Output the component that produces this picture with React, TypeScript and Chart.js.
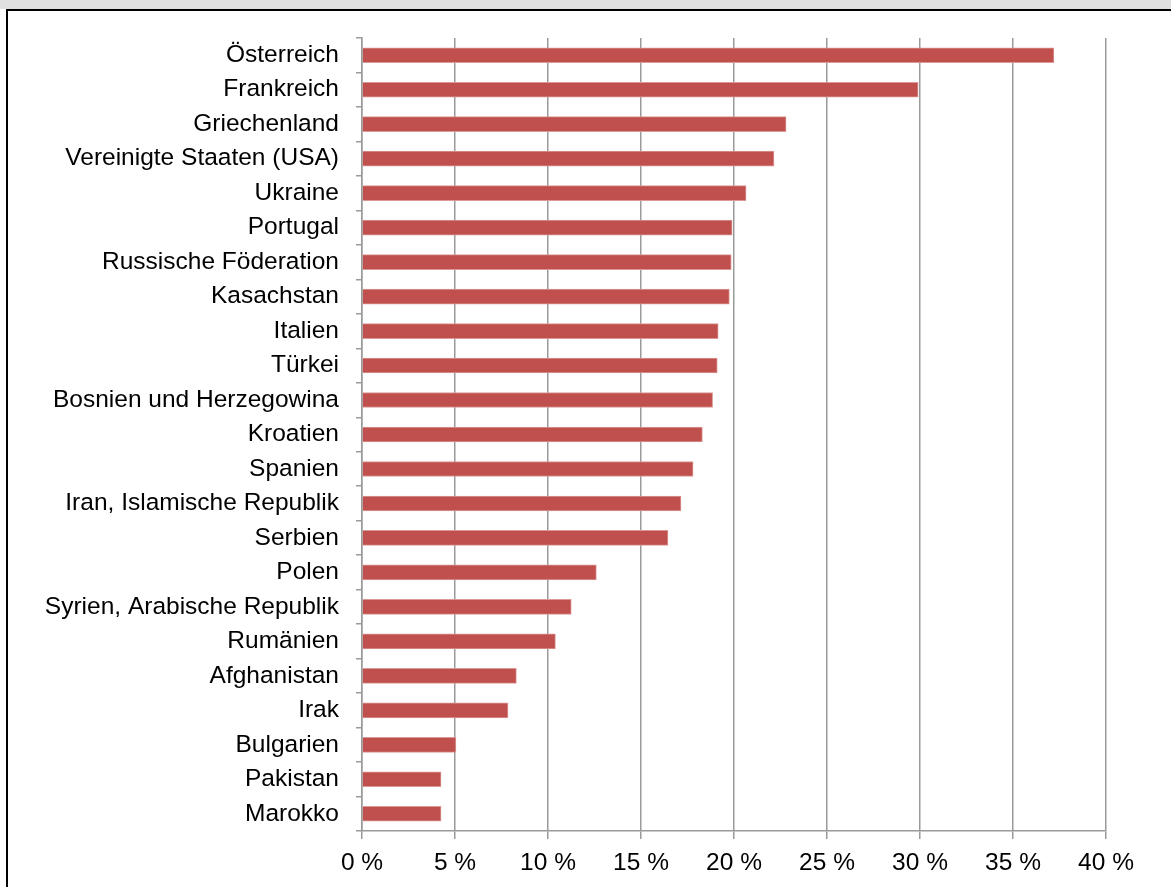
import React, { useEffect, useRef } from 'react';
import { Chart, registerables } from 'chart.js';

Chart.register(...registerables);

const categories = [
  'Österreich',
  'Frankreich',
  'Griechenland',
  'Vereinigte Staaten (USA)',
  'Ukraine',
  'Portugal',
  'Russische Föderation',
  'Kasachstan',
  'Italien',
  'Türkei',
  'Bosnien und Herzegowina',
  'Kroatien',
  'Spanien',
  'Iran, Islamische Republik',
  'Serbien',
  'Polen',
  'Syrien, Arabische Republik',
  'Rumänien',
  'Afghanistan',
  'Irak',
  'Bulgarien',
  'Pakistan',
  'Marokko',
];

const values = [
  37.2, 29.9, 22.8, 22.15, 20.65, 19.9, 19.85, 19.75, 19.15, 19.1, 18.85, 18.3,
  17.8, 17.15, 16.45, 12.6, 11.25, 10.4, 8.3, 7.85, 5.05, 4.25, 4.25,
];

const xMin = 0;
const xMax = 40;
const xStep = 5;

export default function App() {
  const ref = useRef<HTMLCanvasElement>(null);

  useEffect(() => {
    document.body.style.margin = '0';
    const canvas = ref.current;
    if (!canvas) return;
    const font = { family: '"Liberation Sans", Arial, sans-serif', size: 24.5 };
    const chart = new Chart(canvas, {
      type: 'bar',
      data: {
        labels: categories,
        datasets: [
          {
            data: values,
            backgroundColor: '#C0504D',
            borderColor: '#DA9996',
            borderWidth: 1,
            barThickness: 15,
          },
        ],
      },
      options: {
        indexAxis: 'y',
        responsive: false,
        animation: false,
        devicePixelRatio: 1,
        layout: { padding: { left: 0, top: 27, right: 65, bottom: 0 } },
        plugins: { legend: { display: false }, tooltip: { enabled: false } },
        scales: {
          x: {
            min: xMin,
            max: xMax,
            grid: { color: '#9a9a9a', lineWidth: 1.5, tickLength: 8 },
            border: { color: '#9a9a9a', width: 1.5 },
            ticks: {
              stepSize: xStep,
              padding: 10,
              color: '#000',
              font,
              maxRotation: 0,
              callback: (v: any) => `${v} %`,
            },
            afterFit: (scale: any) => {
              scale.height = 56;
              scale.paddingLeft = 0;
              scale.paddingRight = 0;
            },
          },
          y: {
            grid: { drawOnChartArea: false, tickLength: 6, color: '#9a9a9a', lineWidth: 1.5 },
            border: { color: '#9a9a9a', width: 1.5 },
            ticks: { padding: 17, color: '#000', font, autoSkip: false },
            afterFit: (scale: any) => {
              scale.width = 354;
              scale.paddingTop = 0;
              scale.paddingBottom = 0;
            },
          },
        },
      },
    });
    return () => chart.destroy();
  }, []);

  return (
    <div style={{ position: 'relative', width: 1171, height: 887, overflow: 'hidden', background: '#fff' }}>
      <div style={{ position: 'absolute', left: 0, top: 0, width: 1171, height: 9, background: '#e0e0e0' }} />
      <div
        style={{
          position: 'absolute',
          left: 6,
          top: 9,
          width: 1165,
          height: 878,
          borderTop: '2px solid #000',
          borderLeft: '2px solid #000',
          boxSizing: 'border-box',
        }}
      >
        <canvas ref={ref} width={1163} height={876} style={{ display: 'block', width: 1163, height: 876 }} />
      </div>
    </div>
  );
}
